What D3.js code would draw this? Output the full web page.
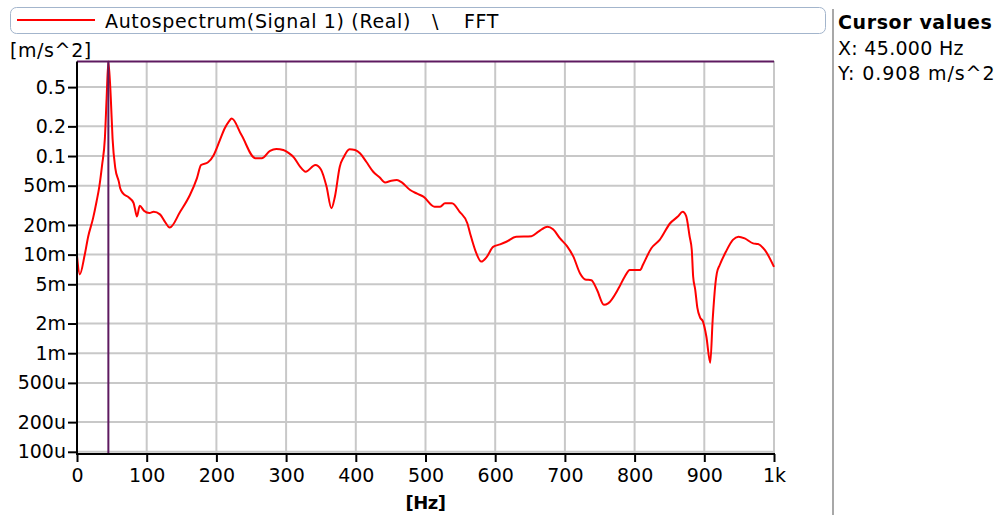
<!DOCTYPE html>
<html>
<head>
<meta charset="utf-8">
<script src="https://cdn.jsdelivr.net/npm/d3@7"></script>
<style>
  html, body { margin: 0; padding: 0; background: #ffffff; }
  svg { display: block; font-family: "DejaVu Sans", Verdana, sans-serif; }
</style>
</head>
<body>
<svg id="chart" width="998" height="515"></svg>
<script>
// Autospectrum of signal 1, frequency in Hz and magnitude in m/s^2
const freqHz = [
  0, 4, 11, 16, 23, 28, 32, 36, 40, 42.5, 45, 48.5, 51, 55, 60, 62, 66, 74, 81, 83, 86, 90, 96,
  104, 110, 119, 126, 133, 148, 162, 172, 178, 188, 196, 205, 212, 218, 222, 236, 256, 265,
  277, 286, 296, 304, 311, 320, 328, 342, 350, 358, 365, 370, 377, 383, 391, 399, 406, 415,
  425, 434, 442, 451, 459, 466, 478, 488, 497, 513, 521, 528, 538, 549, 560, 564, 573, 580,
  588, 597, 607, 616, 630, 652, 662, 675, 683, 693, 703, 712, 722, 729, 738, 746, 756, 762,
  777, 786, 793, 808, 812, 824, 836, 851, 862, 869, 874, 879, 882, 884, 887, 890, 894, 898,
  903, 908.5, 912, 916, 918, 922, 931, 941, 949, 958, 970, 977, 987, 1000
];
const magnitude = [
  0.0097, 0.0063, 0.0099, 0.0152, 0.0233, 0.0344, 0.049, 0.081, 0.151, 0.385, 0.908, 0.385,
  0.151, 0.075, 0.055, 0.047, 0.0418, 0.0381, 0.0336, 0.0295, 0.0243, 0.0313, 0.0279,
  0.0264, 0.0272, 0.0256, 0.0216, 0.0188, 0.0272, 0.0402, 0.0594, 0.081, 0.0863, 0.102,
  0.145, 0.191, 0.225, 0.24, 0.163, 0.0948, 0.0948,
  0.113, 0.118, 0.115, 0.107, 0.097, 0.078, 0.0693, 0.081, 0.073, 0.049, 0.0295, 0.0387,
  0.078, 0.0984, 0.117, 0.115, 0.1065, 0.0875,
  0.0693, 0.0608, 0.054, 0.0562, 0.0571, 0.054, 0.0452, 0.0415, 0.0387, 0.0306, 0.0306,
  0.0331, 0.0331, 0.0272, 0.0208, 0.0164, 0.0103, 0.0085,
  0.0095, 0.012, 0.0127, 0.0135, 0.0152, 0.0154, 0.0171, 0.0192, 0.0181, 0.0146, 0.0122,
  0.0096, 0.0064, 0.0056, 0.0055, 0.0044, 0.0031, 0.0032,
  0.00455, 0.006, 0.007, 0.007, 0.0079, 0.0116, 0.0141, 0.0208, 0.0243, 0.0272, 0.0246,
  0.0152, 0.0112, 0.006, 0.0044, 0.0029, 0.0023, 0.0021,
  0.00147, 0.0008, 0.00217, 0.0051, 0.0065, 0.0078, 0.0107, 0.0141, 0.0152, 0.0146, 0.013,
  0.0128, 0.0111, 0.0075
];

// Axis ticks
const xTicks = [0, 100, 200, 300, 400, 500, 600, 700, 800, 900, 1000];
const xTickLabels = ["0", "100", "200", "300", "400", "500", "600", "700", "800", "900", "1k"];
const yTicks = [0.5, 0.2, 0.1, 0.05, 0.02, 0.01, 0.005, 0.002, 0.001, 0.0005, 0.0002, 0.0001];
const yTickLabels = ["0.5", "0.2", "0.1", "50m", "20m", "10m", "5m", "2m", "1m", "500u", "200u", "100u"];

// Cursor position
const cursorX = 45;
const cursorY = 0.908;

// Legend entry: signal name, then the "\" separator and the function name
const legendParts = ["Autospectrum(Signal 1) (Real)", "\\", "FFT"];
const xUnit = "[Hz]";
const yUnit = "[m/s^2]";

const svg = d3.select("#chart");

const plot = { left: 77, right: 774, top: 61, bottom: 454 };

const x = d3.scaleLinear().domain([0, 1000]).range([plot.left, plot.right]);
const y = d3.scaleLog().domain([9.5e-5, 0.92]).range([plot.bottom, plot.top]);

const gridColor = "#c8c8c8";
const cursorColor = "#5e1a60";

// Grid
const grid = svg.append("g");
grid.selectAll("line.vx").data(xTicks.slice(1)).join("line")
  .attr("x1", d => x(d)).attr("x2", d => x(d))
  .attr("y1", plot.top).attr("y2", plot.bottom)
  .attr("stroke", gridColor).attr("stroke-width", 2);
grid.selectAll("line.hy").data(yTicks).join("line")
  .attr("x1", plot.left).attr("x2", plot.right)
  .attr("y1", d => y(d)).attr("y2", d => y(d))
  .attr("stroke", gridColor).attr("stroke-width", 2);

// Spectrum curve
const points = freqHz.map((f, i) => [f, magnitude[i]]);
svg.append("path")
  .datum(points)
  .attr("fill", "none")
  .attr("stroke", "#ff0000")
  .attr("stroke-width", 2)
  .attr("stroke-linejoin", "round")
  .attr("d", d3.line().x(d => x(d[0])).y(d => y(d[1])).curve(d3.curveMonotoneX));

// Cursor lines
svg.append("line")
  .attr("x1", plot.left).attr("x2", plot.right)
  .attr("y1", y(cursorY)).attr("y2", y(cursorY))
  .attr("stroke", cursorColor).attr("stroke-width", 2);
svg.append("line")
  .attr("x1", x(cursorX)).attr("x2", x(cursorX))
  .attr("y1", y(cursorY)).attr("y2", plot.bottom)
  .attr("stroke", cursorColor).attr("stroke-width", 2);

// Axes
const yAxis = d3.axisLeft(y).tickValues(yTicks)
  .tickFormat((d, i) => yTickLabels[i]).tickSize(9).tickPadding(2).tickSizeOuter(0);
const gy = svg.append("g").attr("transform", `translate(${plot.left},0)`).call(yAxis);
gy.select(".domain").remove();
gy.append("line").attr("x1", 0).attr("x2", 0)
  .attr("y1", y(cursorY)).attr("y2", plot.bottom + 1)
  .attr("stroke", "#000").attr("stroke-width", 2);

const xAxis = d3.axisBottom(x).tickValues(xTicks)
  .tickFormat((d, i) => xTickLabels[i]).tickSize(8).tickPadding(7).tickSizeOuter(0);
const gx = svg.append("g").attr("transform", `translate(0,${plot.bottom})`).call(xAxis);
gx.select(".domain").remove();
gx.append("line").attr("x1", plot.left - 1).attr("x2", plot.right + 1)
  .attr("y1", 0).attr("y2", 0)
  .attr("stroke", "#000").attr("stroke-width", 2);

[gx, gy].forEach(g => {
  g.attr("font-size", 19).attr("font-family", "'DejaVu Sans', Verdana, sans-serif");
  g.selectAll(".tick line").attr("stroke", "#000").attr("stroke-width", 2);
  g.selectAll(".tick text")
    .attr("fill", "#000")
    .style("font-family", "'DejaVu Sans', Verdana, sans-serif")
    .style("font-size", "19px");
});

// Axis units
svg.append("text")
  .attr("x", 10).attr("y", 57)
  .style("font-size", "19px").style("letter-spacing", "0.6px")
  .text(yUnit);
svg.append("text")
  .attr("x", (plot.left + plot.right) / 2).attr("y", 509)
  .attr("text-anchor", "middle")
  .style("font-size", "18px").style("font-weight", "bold").style("letter-spacing", "-0.5px")
  .text(xUnit);

// Legend
svg.append("rect")
  .attr("x", 10.5).attr("y", 7.5).attr("width", 815).attr("height", 26).attr("rx", 6)
  .attr("fill", "#ffffff").attr("stroke", "#a3b5cc").attr("stroke-width", 1);
svg.append("line")
  .attr("x1", 17).attr("x2", 95).attr("y1", 20).attr("y2", 20)
  .attr("stroke", "#ff0000").attr("stroke-width", 2);
const legendText = svg.append("text")
  .attr("y", 28)
  .style("font-size", "19px");
legendText.append("tspan").attr("x", 105).style("letter-spacing", "0.65px").text(legendParts[0]);
legendText.append("tspan").attr("x", 432).text(legendParts[1]);
legendText.append("tspan").attr("x", 464).style("letter-spacing", "0.65px").text(legendParts[2]);

// Cursor readout panel
svg.append("line")
  .attr("x1", 833).attr("x2", 833).attr("y1", 9).attr("y2", 515)
  .attr("stroke", "#a8a8a8").attr("stroke-width", 2);
svg.append("text")
  .attr("x", 838).attr("y", 29)
  .style("font-size", "19px").style("font-weight", "bold").style("letter-spacing", "0.6px")
  .text("Cursor values");
svg.append("text")
  .attr("x", 838).attr("y", 55)
  .style("font-size", "19px").style("letter-spacing", "0.3px")
  .text(`X: ${cursorX.toFixed(3)} Hz`);
svg.append("text")
  .attr("x", 838).attr("y", 80)
  .style("font-size", "19px").style("letter-spacing", "0.9px")
  .text(`Y: ${cursorY.toFixed(3)} m/s^2`);
</script>
</body>
</html>
